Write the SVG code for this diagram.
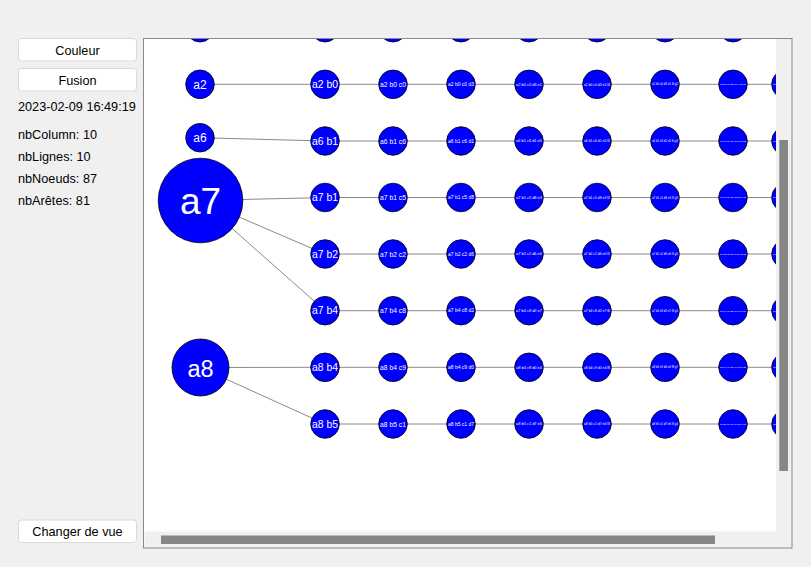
<svg xmlns="http://www.w3.org/2000/svg" width="811" height="567" viewBox="0 0 811 567">
<style>
.ui{font-family:"Liberation Sans","Noto Sans",sans-serif;font-size:12.7px;fill:#000}
.btn{fill:#fff;stroke:#d9d9d9;stroke-width:1}
.bt{font-family:"Liberation Sans","Noto Sans",sans-serif;font-size:12.7px;fill:#000;text-anchor:middle}
.n{fill:#0000ff;stroke:#000;stroke-width:0.8}
.l{font-family:"Liberation Sans","DejaVu Sans",sans-serif;fill:#fff;text-anchor:middle}
.e{stroke:#8a8a8a;stroke-width:1;fill:none}
.c1{font-size:10.5px}.c2{font-size:7px}.c3{font-size:4.9px}.c4{font-size:3.9px}.c5{font-size:3.2px}.c6{font-size:2.75px}.c7{font-size:2.4px}.c8{font-size:2.1px}
</style>
<defs>
<clipPath id="view"><rect x="144.5" y="38.5" width="631.5" height="493"/></clipPath>
</defs>
<rect x="0" y="0" width="811" height="567" fill="#f0f0f0"/>
<g id="btn-couleur"><rect class="btn" x="18.5" y="38.5" width="118" height="22.5" rx="3"/><text class="bt" x="77.5" y="54.5">Couleur</text></g>
<g id="btn-fusion"><rect class="btn" x="18.5" y="68.5" width="118" height="22.5" rx="3"/><text class="bt" x="77.5" y="84.5">Fusion</text></g>
<g id="btn-changer"><rect class="btn" x="18.5" y="520" width="118" height="22.5" rx="3"/><text class="bt" x="77.5" y="536">Changer de vue</text></g>
<g id="info">
<text class="ui" x="18" y="111">2023-02-09 16:49:19</text>
<text class="ui" x="18" y="138.5">nbColumn: 10</text>
<text class="ui" x="18" y="160.5">nbLignes: 10</text>
<text class="ui" x="18" y="183">nbNoeuds: 87</text>
<text class="ui" x="18" y="205">nbArêtes: 81</text>
</g>
<rect x="144" y="38.5" width="648" height="509.5" fill="#ffffff"/>
<g clip-path="url(#view)">
<g id="connectors">
<line class="e" x1="200" y1="84.3" x2="325" y2="84.3"/>
<line class="e" x1="200" y1="137.7" x2="325" y2="141"/>
<line class="e" x1="200.5" y1="200.5" x2="325" y2="197.5"/>
<line class="e" x1="200.5" y1="200.5" x2="325" y2="254"/>
<line class="e" x1="200.5" y1="200.5" x2="325" y2="310.7"/>
<line class="e" x1="200.5" y1="367.5" x2="325" y2="367.3"/>
<line class="e" x1="200.5" y1="367.5" x2="325" y2="424"/>
<path class="e" d="M325 84.3H393H461H529H597H665H733H786M325 141H393H461H529H597H665H733H786M325 197.5H393H461H529H597H665H733H786M325 254H393H461H529H597H665H733H786M325 310.7H393H461H529H597H665H733H786M325 367.3H393H461H529H597H665H733H786M325 424H393H461H529H597H665H733H786"/>
</g>
<g id="top-row">
<circle class="n" cx="200" cy="27.7" r="14.3"/><circle class="n" cx="325" cy="27.7" r="14.3"/><circle class="n" cx="393" cy="27.7" r="14.3"/><circle class="n" cx="461" cy="27.7" r="14.3"/><circle class="n" cx="529" cy="27.7" r="14.3"/><circle class="n" cx="597" cy="27.7" r="14.3"/><circle class="n" cx="665" cy="27.7" r="14.3"/><circle class="n" cx="733" cy="27.7" r="14.3"/>
</g>
<g id="a2"><circle class="n" cx="200" cy="84.3" r="14.3"/><text class="l" x="200" y="88.6" font-size="12">a2</text></g>
<g id="a6"><circle class="n" cx="200" cy="137.7" r="14.3"/><text class="l" x="200" y="142" font-size="12">a6</text></g>
<g id="a7"><circle class="n" cx="200.5" cy="200.5" r="42.3"/><text class="l" x="200.5" y="214" font-size="37">a7</text></g>
<g id="a8"><circle class="n" cx="200.5" cy="367.5" r="28.5"/><text class="l" x="200.5" y="376.5" font-size="23.5">a8</text></g>

<g id="row-a2">
<g id="a2b0"><circle class="n" cx="325" cy="84.3" r="14.3"/><text class="l c1" x="325" y="88" textLength="26" lengthAdjust="spacingAndGlyphs">a2 b0</text></g>
<g id="a2b0c0"><circle class="n" cx="393" cy="84.3" r="14.3"/><text class="l c2" x="393" y="86.8" textLength="26" lengthAdjust="spacingAndGlyphs">a2 b0 c0</text></g>
<g id="a2b0c0d3"><circle class="n" cx="461" cy="84.3" r="14.3"/><text class="l c3" x="461" y="86" textLength="26" lengthAdjust="spacingAndGlyphs">a2 b0 c0 d3</text></g>
<g id="a2b0c0d3e1"><circle class="n" cx="529" cy="84.3" r="14.3"/><text class="l c4" x="529" y="85.7" textLength="26" lengthAdjust="spacingAndGlyphs">a2 b0 c0 d3 e1</text></g>
<g id="a2f"><circle class="n" cx="597" cy="84.3" r="14.3"/><text class="l c5" x="597" y="85.5" textLength="26" lengthAdjust="spacingAndGlyphs">a2 b0 c0 d3 e1 f4</text></g>
<g id="a2g"><circle class="n" cx="665" cy="84.3" r="14.3"/><text class="l c6" x="665" y="85.3" textLength="26" lengthAdjust="spacingAndGlyphs">a2 b0 c0 d3 e1 f4 g2</text></g>
<g id="a2h"><circle class="n" cx="733" cy="84.3" r="14.3"/><text class="l c7" x="733" y="85.2" textLength="26" lengthAdjust="spacingAndGlyphs">a2 b0 c0 d3 e1 f4 g2 h6</text></g>
<g id="a2i"><circle class="n" cx="786" cy="84.3" r="14.3"/><text class="l c8" x="786" y="85.1" textLength="26" lengthAdjust="spacingAndGlyphs">a2 b0 c0 d3 e1 f4 g2 h6 i0</text></g>
</g>

<g id="row-a6">
<g id="a6b1"><circle class="n" cx="325" cy="141" r="14.3"/><text class="l c1" x="325" y="144.7" textLength="26" lengthAdjust="spacingAndGlyphs">a6 b1</text></g>
<g id="a6b1c6"><circle class="n" cx="393" cy="141" r="14.3"/><text class="l c2" x="393" y="143.5" textLength="26" lengthAdjust="spacingAndGlyphs">a6 b1 c6</text></g>
<g id="a6d"><circle class="n" cx="461" cy="141" r="14.3"/><text class="l c3" x="461" y="142.7" textLength="26" lengthAdjust="spacingAndGlyphs">a6 b1 c6 d1</text></g>
<g id="a6e"><circle class="n" cx="529" cy="141" r="14.3"/><text class="l c4" x="529" y="142.4" textLength="26" lengthAdjust="spacingAndGlyphs">a6 b1 c6 d1 e5</text></g>
<g id="a6f"><circle class="n" cx="597" cy="141" r="14.3"/><text class="l c5" x="597" y="142.2" textLength="26" lengthAdjust="spacingAndGlyphs">a6 b1 c6 d1 e5 f0</text></g>
<g id="a6g"><circle class="n" cx="665" cy="141" r="14.3"/><text class="l c6" x="665" y="142" textLength="26" lengthAdjust="spacingAndGlyphs">a6 b1 c6 d1 e5 f0 g3</text></g>
<g id="a6h"><circle class="n" cx="733" cy="141" r="14.3"/><text class="l c7" x="733" y="141.9" textLength="26" lengthAdjust="spacingAndGlyphs">a6 b1 c6 d1 e5 f0 g3 h2</text></g>
<g id="a6i"><circle class="n" cx="786" cy="141" r="14.3"/><text class="l c8" x="786" y="141.8" textLength="26" lengthAdjust="spacingAndGlyphs">a6 b1 c6 d1 e5 f0 g3 h2 i7</text></g>
</g>

<g id="row-a7b1">
<g id="a7b1"><circle class="n" cx="325" cy="197.5" r="14.3"/><text class="l c1" x="325" y="201.2" textLength="26" lengthAdjust="spacingAndGlyphs">a7 b1</text></g>
<g id="a7b1c5"><circle class="n" cx="393" cy="197.5" r="14.3"/><text class="l c2" x="393" y="200" textLength="26" lengthAdjust="spacingAndGlyphs">a7 b1 c5</text></g>
<g id="a7b1d"><circle class="n" cx="461" cy="197.5" r="14.3"/><text class="l c3" x="461" y="199.2" textLength="26" lengthAdjust="spacingAndGlyphs">a7 b1 c5 d8</text></g>
<g id="a7b1e"><circle class="n" cx="529" cy="197.5" r="14.3"/><text class="l c4" x="529" y="198.9" textLength="26" lengthAdjust="spacingAndGlyphs">a7 b1 c5 d8 e3</text></g>
<g id="a7b1f"><circle class="n" cx="597" cy="197.5" r="14.3"/><text class="l c5" x="597" y="198.7" textLength="26" lengthAdjust="spacingAndGlyphs">a7 b1 c5 d8 e3 f2</text></g>
<g id="a7b1g"><circle class="n" cx="665" cy="197.5" r="14.3"/><text class="l c6" x="665" y="198.5" textLength="26" lengthAdjust="spacingAndGlyphs">a7 b1 c5 d8 e3 f2 g9</text></g>
<g id="a7b1h"><circle class="n" cx="733" cy="197.5" r="14.3"/><text class="l c7" x="733" y="198.4" textLength="26" lengthAdjust="spacingAndGlyphs">a7 b1 c5 d8 e3 f2 g9 h1</text></g>
<g id="a7b1i"><circle class="n" cx="786" cy="197.5" r="14.3"/><text class="l c8" x="786" y="198.3" textLength="26" lengthAdjust="spacingAndGlyphs">a7 b1 c5 d8 e3 f2 g9 h1 i4</text></g>
</g>

<g id="row-a7b2">
<g id="a7b2"><circle class="n" cx="325" cy="254" r="14.3"/><text class="l c1" x="325" y="257.7" textLength="26" lengthAdjust="spacingAndGlyphs">a7 b2</text></g>
<g id="a7b2c2"><circle class="n" cx="393" cy="254" r="14.3"/><text class="l c2" x="393" y="256.5" textLength="26" lengthAdjust="spacingAndGlyphs">a7 b2 c2</text></g>
<g id="a7b2d"><circle class="n" cx="461" cy="254" r="14.3"/><text class="l c3" x="461" y="255.7" textLength="26" lengthAdjust="spacingAndGlyphs">a7 b2 c2 d6</text></g>
<g id="a7b2e"><circle class="n" cx="529" cy="254" r="14.3"/><text class="l c4" x="529" y="255.4" textLength="26" lengthAdjust="spacingAndGlyphs">a7 b2 c2 d6 e0</text></g>
<g id="a7b2f"><circle class="n" cx="597" cy="254" r="14.3"/><text class="l c5" x="597" y="255.2" textLength="26" lengthAdjust="spacingAndGlyphs">a7 b2 c2 d6 e0 f1</text></g>
<g id="a7b2g"><circle class="n" cx="665" cy="254" r="14.3"/><text class="l c6" x="665" y="255" textLength="26" lengthAdjust="spacingAndGlyphs">a7 b2 c2 d6 e0 f1 g5</text></g>
<g id="a7b2h"><circle class="n" cx="733" cy="254" r="14.3"/><text class="l c7" x="733" y="254.9" textLength="26" lengthAdjust="spacingAndGlyphs">a7 b2 c2 d6 e0 f1 g5 h3</text></g>
<g id="a7b2i"><circle class="n" cx="786" cy="254" r="14.3"/><text class="l c8" x="786" y="254.8" textLength="26" lengthAdjust="spacingAndGlyphs">a7 b2 c2 d6 e0 f1 g5 h3 i8</text></g>
</g>

<g id="row-a7b4">
<g id="a7b4"><circle class="n" cx="325" cy="310.7" r="14.3"/><text class="l c1" x="325" y="314.4" textLength="26" lengthAdjust="spacingAndGlyphs">a7 b4</text></g>
<g id="a7b4c8"><circle class="n" cx="393" cy="310.7" r="14.3"/><text class="l c2" x="393" y="313.2" textLength="26" lengthAdjust="spacingAndGlyphs">a7 b4 c8</text></g>
<g id="a7b4d"><circle class="n" cx="461" cy="310.7" r="14.3"/><text class="l c3" x="461" y="312.4" textLength="26" lengthAdjust="spacingAndGlyphs">a7 b4 c8 d2</text></g>
<g id="a7b4e"><circle class="n" cx="529" cy="310.7" r="14.3"/><text class="l c4" x="529" y="312.1" textLength="26" lengthAdjust="spacingAndGlyphs">a7 b4 c8 d2 e7</text></g>
<g id="a7b4f"><circle class="n" cx="597" cy="310.7" r="14.3"/><text class="l c5" x="597" y="311.9" textLength="26" lengthAdjust="spacingAndGlyphs">a7 b4 c8 d2 e7 f6</text></g>
<g id="a7b4g"><circle class="n" cx="665" cy="310.7" r="14.3"/><text class="l c6" x="665" y="311.7" textLength="26" lengthAdjust="spacingAndGlyphs">a7 b4 c8 d2 e7 f6 g0</text></g>
<g id="a7b4h"><circle class="n" cx="733" cy="310.7" r="14.3"/><text class="l c7" x="733" y="311.6" textLength="26" lengthAdjust="spacingAndGlyphs">a7 b4 c8 d2 e7 f6 g0 h9</text></g>
<g id="a7b4i"><circle class="n" cx="786" cy="310.7" r="14.3"/><text class="l c8" x="786" y="311.5" textLength="26" lengthAdjust="spacingAndGlyphs">a7 b4 c8 d2 e7 f6 g0 h9 i3</text></g>
</g>

<g id="row-a8b4">
<g id="a8b4"><circle class="n" cx="325" cy="367.3" r="14.3"/><text class="l c1" x="325" y="371" textLength="26" lengthAdjust="spacingAndGlyphs">a8 b4</text></g>
<g id="a8b4c9"><circle class="n" cx="393" cy="367.3" r="14.3"/><text class="l c2" x="393" y="369.8" textLength="26" lengthAdjust="spacingAndGlyphs">a8 b4 c9</text></g>
<g id="a8b4d"><circle class="n" cx="461" cy="367.3" r="14.3"/><text class="l c3" x="461" y="369" textLength="26" lengthAdjust="spacingAndGlyphs">a8 b4 c9 d0</text></g>
<g id="a8b4e"><circle class="n" cx="529" cy="367.3" r="14.3"/><text class="l c4" x="529" y="368.7" textLength="26" lengthAdjust="spacingAndGlyphs">a8 b4 c9 d0 e4</text></g>
<g id="a8b4f"><circle class="n" cx="597" cy="367.3" r="14.3"/><text class="l c5" x="597" y="368.5" textLength="26" lengthAdjust="spacingAndGlyphs">a8 b4 c9 d0 e4 f8</text></g>
<g id="a8b4g"><circle class="n" cx="665" cy="367.3" r="14.3"/><text class="l c6" x="665" y="368.3" textLength="26" lengthAdjust="spacingAndGlyphs">a8 b4 c9 d0 e4 f8 g7</text></g>
<g id="a8b4h"><circle class="n" cx="733" cy="367.3" r="14.3"/><text class="l c7" x="733" y="368.2" textLength="26" lengthAdjust="spacingAndGlyphs">a8 b4 c9 d0 e4 f8 g7 h5</text></g>
<g id="a8b4i"><circle class="n" cx="786" cy="367.3" r="14.3"/><text class="l c8" x="786" y="368.1" textLength="26" lengthAdjust="spacingAndGlyphs">a8 b4 c9 d0 e4 f8 g7 h5 i1</text></g>
</g>

<g id="row-a8b5">
<g id="a8b5"><circle class="n" cx="325" cy="424" r="14.3"/><text class="l c1" x="325" y="427.7" textLength="26" lengthAdjust="spacingAndGlyphs">a8 b5</text></g>
<g id="a8b5c1"><circle class="n" cx="393" cy="424" r="14.3"/><text class="l c2" x="393" y="426.5" textLength="26" lengthAdjust="spacingAndGlyphs">a8 b5 c1</text></g>
<g id="a8b5d"><circle class="n" cx="461" cy="424" r="14.3"/><text class="l c3" x="461" y="425.7" textLength="26" lengthAdjust="spacingAndGlyphs">a8 b5 c1 d7</text></g>
<g id="a8b5e"><circle class="n" cx="529" cy="424" r="14.3"/><text class="l c4" x="529" y="425.4" textLength="26" lengthAdjust="spacingAndGlyphs">a8 b5 c1 d7 e6</text></g>
<g id="a8b5f"><circle class="n" cx="597" cy="424" r="14.3"/><text class="l c5" x="597" y="425.2" textLength="26" lengthAdjust="spacingAndGlyphs">a8 b5 c1 d7 e6 f3</text></g>
<g id="a8b5g"><circle class="n" cx="665" cy="424" r="14.3"/><text class="l c6" x="665" y="425" textLength="26" lengthAdjust="spacingAndGlyphs">a8 b5 c1 d7 e6 f3 g4</text></g>
<g id="a8b5h"><circle class="n" cx="733" cy="424" r="14.3"/><text class="l c7" x="733" y="424.9" textLength="26" lengthAdjust="spacingAndGlyphs">a8 b5 c1 d7 e6 f3 g4 h0</text></g>
<g id="a8b5i"><circle class="n" cx="786" cy="424" r="14.3"/><text class="l c8" x="786" y="424.8" textLength="26" lengthAdjust="spacingAndGlyphs">a8 b5 c1 d7 e6 f3 g4 h0 i2</text></g>
</g>
</g>
<g id="scrollbars">
<rect x="776" y="38.5" width="16" height="493" fill="#f0f0f0"/>
<rect x="144.5" y="531.5" width="647.5" height="16.5" fill="#f0f0f0"/>
<rect x="779.3" y="140" width="8.7" height="331" fill="#868686"/>
<rect x="161" y="535.5" width="554" height="8.5" fill="#868686"/>
</g>
<rect x="143.5" y="38.5" width="648.5" height="509.5" fill="none" stroke="#868a94" stroke-width="1"/>
</svg>
